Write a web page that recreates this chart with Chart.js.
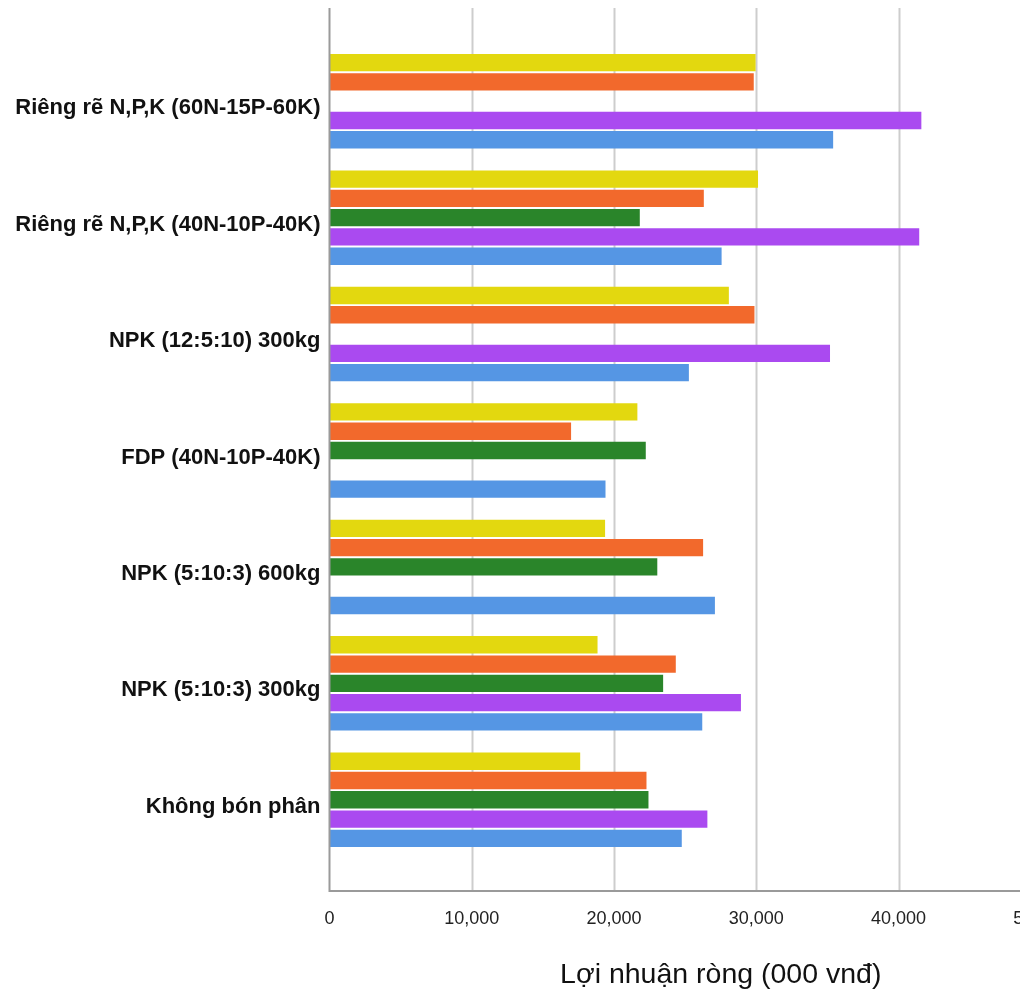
<!DOCTYPE html>
<html lang="vi">
<head>
<meta charset="utf-8">
<title>Lợi nhuận ròng theo công thức bón phân</title>
<script src="https://cdn.jsdelivr.net/npm/chart.js@4/dist/chart.umd.min.js"></script>
<style>
  html, body { margin: 0; padding: 0; background: #fff; overflow: hidden; }
  #wrap { position: relative; width: 1142px; height: 1001px; }
</style>
</head>
<body>
<div id="wrap"><canvas id="chart"></canvas></div>
<script>
// Công thức bón phân (trục dọc, từ trên xuống)
const categories = [
  'Riêng rẽ N,P,K (60N-15P-60K)',
  'Riêng rẽ N,P,K (40N-10P-40K)',
  'NPK (12:5:10) 300kg',
  'FDP (40N-10P-40K)',
  'NPK (5:10:3) 600kg',
  'NPK (5:10:3) 300kg',
  'Không bón phân'
];

// Lợi nhuận ròng (000 vnđ) của từng nhóm; null = không có số liệu
const seriesYellow = [29950, 30120, 28070, 21640, 19370, 18840, 17620];
const seriesOrange = [29820, 26310, 29870, 16980, 26260, 24340, 22280];
const seriesGreen  = [null, 21810, null, 22230, 23040, 23450, 22420];
const seriesPurple = [41600, 41450, 35180, null, null, 28920, 26560];
const seriesBlue   = [35400, 27560, 25260, 19400, 27090, 26200, 24760];

// Vạch chia trục ngang
const xTickValues = [0, 10000, 20000, 30000, 40000, 50000];

const axisTitle = 'Lợi nhuận ròng (000 vnđ)';

const sans = "'Liberation Sans', Arial, sans-serif";

// Lưới dọc và hai trục được kéo dài ra ngoài vùng cột
const extendedFrame = {
  id: 'extendedFrame',
  beforeDatasetsDraw(chart) {
    const { ctx, chartArea, scales: { x } } = chart;
    const top = chartArea.top - 35;
    const bottom = chartArea.bottom + 33;
    ctx.save();
    ctx.strokeStyle = '#cdcdcd';
    ctx.lineWidth = 2;
    x.ticks.forEach(t => {
      if (t.value === 0) return;
      const px = Math.round(x.getPixelForValue(t.value)) + 0.5;
      ctx.beginPath();
      ctx.moveTo(px, top);
      ctx.lineTo(px, bottom);
      ctx.stroke();
    });
    ctx.restore();
  },
  afterDatasetsDraw(chart) {
    const { ctx, chartArea, scales: { x } } = chart;
    const top = chartArea.top - 35;
    const bottom = chartArea.bottom + 33;
    const x0 = x.getPixelForValue(0);
    ctx.save();
    ctx.strokeStyle = '#9a9a9a';
    ctx.lineWidth = 2;
    ctx.beginPath();
    ctx.moveTo(x0, top);
    ctx.lineTo(x0, bottom);
    ctx.lineTo(chart.width, bottom);
    ctx.stroke();
    ctx.restore();
  }
};

const ds = (label, data, color) => ({
  label,
  data,
  backgroundColor: color,
  borderWidth: 0,
  categoryPercentage: 0.828,
  barPercentage: 0.9
});

new Chart(document.getElementById('chart'), {
  type: 'bar',
  data: {
    labels: categories,
    datasets: [
      ds('Nhóm 1', seriesYellow, '#e3d80f'),
      ds('Nhóm 2', seriesOrange, '#f2692c'),
      ds('Nhóm 3', seriesGreen,  '#2a852a'),
      ds('Nhóm 4', seriesPurple, '#aa4af0'),
      ds('Nhóm 5', seriesBlue,   '#5596e4')
    ]
  },
  options: {
    indexAxis: 'y',
    responsive: true,
    maintainAspectRatio: false,
    animation: false,
    layout: { padding: { top: 43, right: 30, bottom: 0, left: 0 } },
    plugins: {
      legend: { display: false },
      tooltip: { enabled: false }
    },
    scales: {
      x: {
        type: 'linear',
        min: 0,
        max: 55000,
        afterBuildTicks: (s) => { s.ticks = xTickValues.map(v => ({ value: v })); },
        afterFit: (s) => { s.height = 143; },
        grid: { display: false, drawTicks: false },
        border: { display: false },
        ticks: {
          padding: 50,
          color: '#222',
          font: { family: sans, size: 18 },
          callback: (v) => Number(v).toLocaleString('en-US')
        },
        title: {
          display: true,
          text: axisTitle,
          color: '#111',
          font: { family: sans, size: 28.5 },
          padding: { top: 0, bottom: 9 }
        }
      },
      y: {
        afterFit: (s) => { s.width = 329.5; },
        grid: { display: false, drawTicks: false },
        border: { display: false },
        ticks: {
          padding: 9,
          labelOffset: 7,
          color: '#111',
          font: { family: sans, size: 22, weight: 'bold' }
        }
      }
    }
  },
  plugins: [extendedFrame]
});
</script>
</body>
</html>
